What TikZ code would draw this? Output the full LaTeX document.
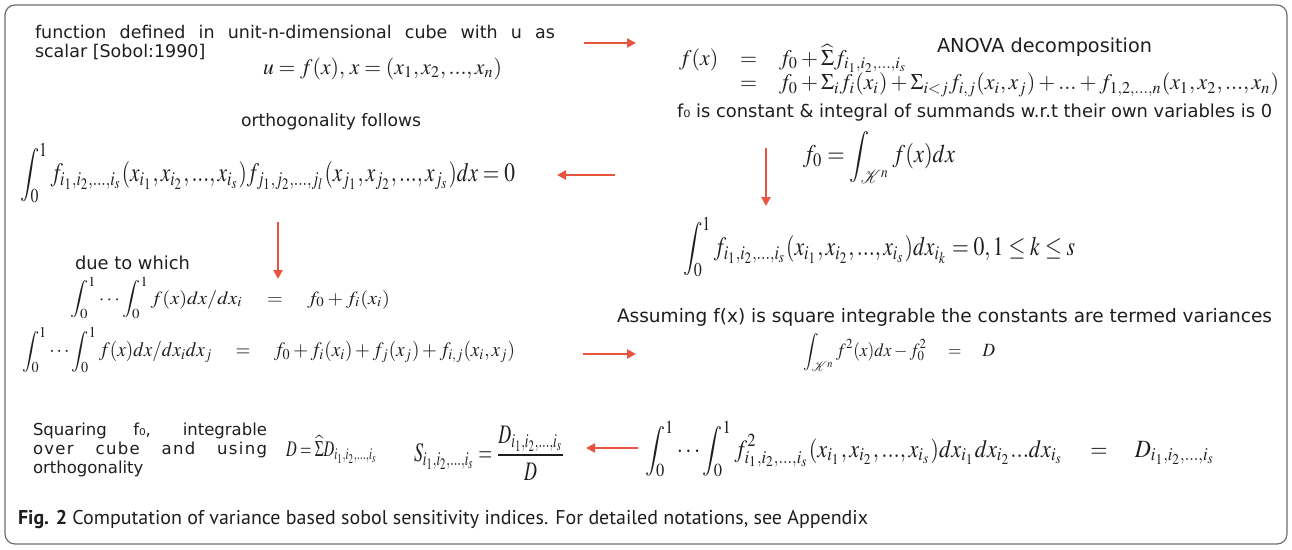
\documentclass[tikz,border=0pt]{standalone}
\usepackage{mathptmx}
\usepackage[no-math]{fontspec}
\newfontfamily\vfont{DejaVu Sans}
\newfontfamily\capfont{PT Sans}
\usetikzlibrary{arrows.meta}
\definecolor{arrowred}{RGB}{232,84,62}
\definecolor{framegray}{RGB}{110,110,110}
\definecolor{inkc}{RGB}{30,30,30}
\newcommand{\fitw}[2]{\resizebox{#1}{!}{#2}}
\newcommand{\fitwh}[3]{\resizebox*{#1}{#2}{#3}}
\tikzset{
  lbl/.style={inner sep=0pt, outer sep=0pt, text=inkc, anchor=west},
  redarrow/.style={draw=arrowred, line width=2.6pt, -{Triangle[length=9pt,width=9pt]}},
  frame/.style={draw=framegray, line width=1.2pt, rounded corners=10pt}
}
\begin{document}
\begin{tikzpicture}[x=1pt,y=-1pt]
\useasboundingbox (0,0) rectangle (1292,549);
\draw[frame] (5,5) rectangle (1287,544);

% top-left
\node[lbl, anchor=north west, align=left, font={\vfont\fontsize{17.5}{19}\selectfont}] (t1) at (35,25)
  {\makebox[520pt][s]{function defined in unit-n-dimensional cube with u as}\\scalar [Sobol:1990]};
\node[lbl] (ufx) at (263,69) {\fitwh{239pt}{22pt}{$u=f(x),\,x=(x_1,x_2,...,x_n)$}};

% ANOVA
\node[lbl] (anova) at (679,71) {\fitwh{600pt}{54pt}{$\begin{array}{@{}r@{\quad}c@{\quad}l@{}} f(x) & = & f_0+\widehat{\Sigma}f_{i_1,i_2,...,i_s}\\[-1pt] & = & f_0+\Sigma_i f_i(x_i)+\Sigma_{i<j}f_{i,j}(x_i,x_j)+...+f_{1,2,...,n}(x_1,x_2,...,x_n)\end{array}$}};
\node[lbl] (anovat) at (937,47) {\fitw{215pt}{\vfont ANOVA decomposition}};
\node[lbl] (f0t) at (677,113) {\fitw{595pt}{\vfont f₀ is constant \& integral of summands w.r.t their own variables is 0}};
\node[lbl] (f0) at (803,157) {\fitwh{152pt}{52pt}{$\displaystyle f_0=\int_{\mathcal{K}^n}f(x)dx$}};
\node[lbl] (ik) at (683,247) {\fitwh{392pt}{60pt}{$\displaystyle\int_0^1 f_{i_1,i_2,...,i_s}(x_{i_1},x_{i_2},...,x_{i_s})dx_{i_k}=0,1\leq k\leq s$}};

% orthogonality
\node[lbl] (orthot) at (241,122) {\fitw{180pt}{\vfont orthogonality follows}};
\node[lbl] (ortho) at (20,173) {\fitwh{495pt}{60pt}{$\displaystyle\int_0^1 f_{i_1,i_2,...,i_s}(x_{i_1},x_{i_2},...,x_{i_s})f_{j_1,j_2,...,j_l}(x_{j_1},x_{j_2},...,x_{j_s})dx=0$}};

% due to which
\node[lbl] (duet) at (75,263) {\fitw{115pt}{\vfont due to which}};
\node[lbl] (eq1) at (70,298) {\fitwh{320pt}{42pt}{$\displaystyle\int_0^1\cdots\int_0^1 f(x)dx/dx_i\quad=\quad f_0+f_i(x_i)$}};
\node[lbl] (eq2) at (22,350) {\fitwh{493pt}{46pt}{$\displaystyle\int_0^1\cdots\int_0^1 f(x)dx/dx_idx_j\quad=\quad f_0+f_i(x_i)+f_j(x_j)+f_{i,j}(x_i,x_j)$}};

% variance
\node[lbl] (assumt) at (617,317) {\fitw{655pt}{\vfont Assuming f(x) is square integrable the constants are termed variances}};
\node[lbl] (var) at (803,352) {\fitwh{192pt}{38pt}{$\displaystyle\int_{\mathcal{K}^n}f^2(x)dx-f_0^2\quad=\quad D$}};

% bottom row
\node[lbl, anchor=north west, align=left, font={\vfont\fontsize{16.5}{19}\selectfont}] (sqt) at (33,423)
  {\makebox[234pt][s]{Squaring f₀, integrable}\\{\addfontfeature{LetterSpace=8}\makebox[234pt][s]{over cube and using}}\\orthogonality};
\node[lbl] (dsum) at (286,449) {\fitwh{91pt}{28pt}{$D=\widehat{\Sigma}D_{i_1,i_2,...,i_s}$}};
\node[lbl] (sidx) at (414,453) {\fitwh{151pt}{54pt}{$\displaystyle S_{i_1,i_2,...,i_s}=\frac{D_{i_1,i_2,...,i_s}}{D}$}};
\node[lbl] (dint) at (645,449) {\fitwh{570pt}{56pt}{$\displaystyle\int_0^1\cdots\int_0^1 f^2_{i_1,i_2,...,i_s}(x_{i_1},x_{i_2},...,x_{i_s})dx_{i_1}dx_{i_2}...dx_{i_s}\quad=\quad D_{i_1,i_2,...,i_s}$}};

% caption
\node[lbl] (cap) at (18,519) {\fitw{850pt}{\capfont\textbf{Fig. 2} Computation of variance based sobol sensitivity indices. For detailed notations, see Appendix}};

% arrows
\coordinate (r1s) at (584,43); \coordinate (r1e) at (636,43);
\coordinate (l1s) at (615,175); \coordinate (l1e) at (557,175);
\coordinate (d1s) at (766,148); \coordinate (d1e) at (766,206);
\coordinate (d2s) at (278,222); \coordinate (d2e) at (278,279);
\coordinate (r2s) at (583,354); \coordinate (r2e) at (636,354);
\coordinate (l2s) at (638,448); \coordinate (l2e) at (586,448);
\draw[redarrow] (r1s) -- (r1e);
\draw[redarrow] (l1s) -- (l1e);
\draw[redarrow] (d1s) -- (d1e);
\draw[redarrow] (d2s) -- (d2e);
\draw[redarrow] (r2s) -- (r2e);
\draw[redarrow] (l2s) -- (l2e);
\end{tikzpicture}
\end{document}
